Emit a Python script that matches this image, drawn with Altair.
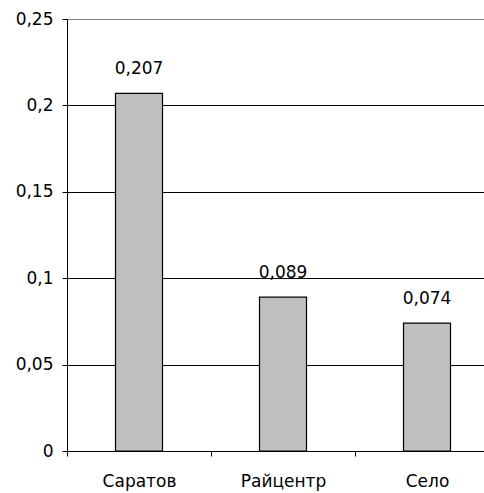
import altair as alt
import pandas as pd

categories = ["Саратов", "Райцентр", "Село"]
values = [0.207, 0.089, 0.074]
y_ticks = [0, 0.05, 0.1, 0.15, 0.2, 0.25]

df = pd.DataFrame({"cat": categories, "v": values})

FONT = "DejaVu Sans"

x = alt.X(
    "cat:N",
    sort=categories,
    title=None,
    scale=alt.Scale(paddingInner=0, paddingOuter=0, range=[0, 432]),
    axis=alt.Axis(
        labelAngle=0,
        tickBand="extent",
        tickSize=5,
        tickColor="black",
        domainColor="black",
        labelPadding=17,
        labelFont=FONT,
        labelFontSize=17,
        labelColor="black",
        grid=False,
    ),
)
y = alt.Y(
    "v:Q",
    title=None,
    scale=alt.Scale(domain=[0, 0.25], nice=False),
    axis=alt.Axis(
        values=y_ticks,
        labelExpr="replace(format(datum.value, '~g'), '.', ',')",
        tickSize=5,
        tickColor="black",
        domainColor="black",
        gridColor={"condition": {"test": "datum.value === 0.25", "value": "#808080"}, "value": "black"},
        gridOpacity=1,
        gridWidth=1,
        labelPadding=9,
        labelFont=FONT,
        labelFontSize=17,
        labelColor="black",
    ),
)

bars = alt.Chart(df).mark_bar(
    size=47, color="#C0C0C0", stroke="black", strokeWidth=1.2
).encode(x=x, y=y)

labels = alt.Chart(df).transform_calculate(
    lab="replace(format(datum.v, '.3f'), '.', ',')"
).mark_text(
    dy=-24, font=FONT, fontSize=17, color="black"
).encode(x=alt.X("cat:N", sort=categories), y="v:Q", text="lab:N")

chart = alt.layer(bars, labels).properties(
    width=417,
    height=432,
    autosize=alt.AutoSizeParams(type="none"),
    padding={"left": 67, "top": 19, "right": 0, "bottom": 42},
).configure_view(stroke=None).configure(background="white")

chart.save("out.html", embed_options={"renderer": "svg", "actions": False})
